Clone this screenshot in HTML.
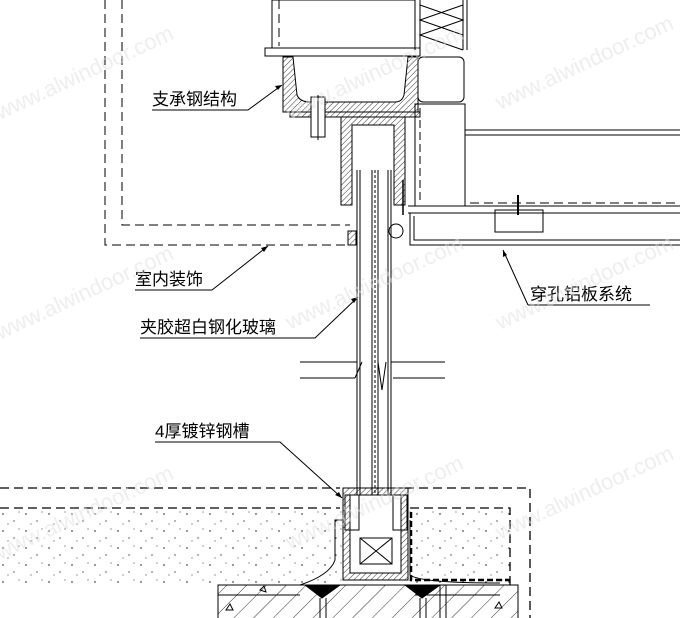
<!DOCTYPE html>
<html><head><meta charset="utf-8"><style>
html,body{margin:0;padding:0;background:#fff}
svg{display:block}
text{font-family:"Liberation Sans","Noto Sans CJK SC",sans-serif}
</style></head><body>
<svg width="680" height="618" viewBox="0 0 680 618" xmlns="http://www.w3.org/2000/svg">
<defs>
<pattern id="h" width="4" height="4" patternUnits="userSpaceOnUse" patternTransform="rotate(45)"><line x1="0" y1="0" x2="0" y2="4" stroke="#000" stroke-width="0.8"/></pattern>
<pattern id="hs" width="14" height="14" patternUnits="userSpaceOnUse" patternTransform="rotate(45)"><line x1="0" y1="0" x2="0" y2="14" stroke="#000" stroke-width="0.8"/></pattern>
<pattern id="dots" width="23" height="17" patternUnits="userSpaceOnUse"><circle cx="3" cy="4" r="0.7" fill="#000"/><circle cx="14" cy="11" r="0.6" fill="#000"/><circle cx="19" cy="2" r="0.5" fill="#000"/><circle cx="8" cy="14" r="0.5" fill="#000"/></pattern>
</defs>
<rect width="680" height="618" fill="#fff"/>
<g fill="none" stroke="#000" stroke-width="1">
<path d="M105 0V245H350" stroke-dasharray="9,5"/>
<path d="M122 0V225H350" stroke-dasharray="9,5"/>
<rect x="272" y="0" width="143" height="48"/>
<line x1="279" y1="0" x2="279" y2="46" stroke-dasharray="9,5"/>
<rect x="265" y="48" width="155" height="8"/>
<line x1="415" y1="0" x2="415" y2="50"/><line x1="420" y1="0" x2="420" y2="50"/>
<line x1="463" y1="0" x2="463" y2="50"/><line x1="467" y1="0" x2="467" y2="50"/>
<path d="M420 5L463 20L420 35L463 50M463 5L420 20L463 35"/>
<!-- U bracket -->
<path d="M283 57H293L297 95Q300 102 310 102H395Q402 102 404 95L408 57H418V112H283Z" fill="url(#h)"/>
<rect x="290" y="112" width="130" height="5" fill="url(#h)"/>
<path d="M341 117H405V205H394V125H352V205H341Z" fill="url(#h)"/>
<rect x="311" y="97" width="14" height="40" fill="#fff"/>
<line x1="318" y1="95" x2="318" y2="140"/>
<rect x="418" y="57" width="46" height="45" rx="5"/>
<rect x="415" y="104" width="50" height="102"/>
<line x1="420" y1="108" x2="420" y2="204" stroke-dasharray="8,4"/>
<path d="M465 130H680M465 135H680" />
<line x1="470" y1="203" x2="680" y2="203" stroke-dasharray="9,5"/>
<line x1="465" y1="135" x2="465" y2="206"/>
<path d="M408 206H680M408 213H680M410 213V245H680M414 216V240H680"/>
<rect x="495" y="210" width="48" height="22"/>
<line x1="518" y1="195" x2="518" y2="215" stroke-width="2"/>
<line x1="403" y1="180" x2="403" y2="215" stroke-width="1.5"/>
<circle cx="396" cy="231" r="7"/>
<rect x="348" y="231" width="8" height="14" fill="url(#h)"/>
<path d="M357 170V500M360 170V500M372 170V500M378 170V500M388 170V500M391 170V500"/>
<line x1="375" y1="170" x2="375" y2="500" stroke-dasharray="3,2"/>
<path d="M300 362H357M391 362H445M300 378H355M393 378H445"/>
<path d="M355 378L362 362M378 362L382 390L386 362" />
<path d="M0 488H340M405 488H530V618" stroke-dasharray="9,5" stroke-width="1.3"/>
<path d="M0 508H340M410 508H510V585" stroke-dasharray="9,5" stroke-width="1.3"/>
<path d="M343 488H408V580H343Z" fill="url(#h)"/>
<rect x="350" y="495" width="51" height="78" fill="#fff"/>
<rect x="360" y="538" width="32" height="26"/>
<path d="M360 538L392 564M392 538L360 564"/>
<rect x="345" y="495" width="14" height="35"/><rect x="393" y="495" width="14" height="35"/>
<rect x="0" y="509" width="342" height="76" fill="url(#dots)" stroke="none"/>
<rect x="409" y="509" width="101" height="76" fill="url(#dots)" stroke="none"/>
<path d="M300 585Q330 575 335 560V520H342M410 520V575Q420 583 500 583"/>
<path d="M411 512V580H510" stroke-width="2.5" stroke-dasharray="6,3"/>
<rect x="218" y="585" width="300" height="40" fill="url(#hs)"/>
<path d="M218 595H300M415 595H500"/>
<path d="M305 585H340L322 598ZM405 585H440L422 598Z" fill="#000"/>
<path d="M320 598V618M326 598V618M420 598V618M426 598V618M440 585V618M446 585V618"/>
<path d="M226 610l4 -6l3 6zM495 608l4 -6l3 6zM260 590l4 -4l2 6z"/>
<path d="M152 110H248L282 85"/>
<path d="M135 290H212L268 246"/>
<path d="M140 338H315L358 297"/>
<path d="M155 442H280L342 498"/>
<path d="M528 305H650M528 305L503 250"/>
</g>
<g fill="#000">
<path d="M282 85l-7 1l3 4z"/><path d="M268 246l-7 2l3 4z"/><path d="M358 297l-7 2l3 4z"/><path d="M342 498l-3 -6l-4 3z"/><path d="M503 250l0 7l4 -2z"/>
</g>
<g font-size="17" fill="#000">
<text x="152" y="105">支承钢结构</text>
<text x="135" y="285">室内装饰</text>
<text x="140" y="333">夹胶超白钢化玻璃</text>
<text x="155" y="437">4厚镀锌钢槽</text>
<text x="530" y="300">穿孔铝板系统</text>
</g>
<g font-size="22" fill="#ddd" fill-opacity="0.5" font-family="Liberation Sans,sans-serif">
<text transform="translate(0,120) rotate(-25)">www.alwindoor.com</text>
<text transform="translate(290,120) rotate(-25)">www.alwindoor.com</text>
<text transform="translate(500,110) rotate(-25)">www.alwindoor.com</text>
<text transform="translate(0,340) rotate(-25)">www.alwindoor.com</text>
<text transform="translate(290,330) rotate(-25)">www.alwindoor.com</text>
<text transform="translate(500,330) rotate(-25)">www.alwindoor.com</text>
<text transform="translate(0,560) rotate(-25)">www.alwindoor.com</text>
<text transform="translate(290,550) rotate(-25)">www.alwindoor.com</text>
<text transform="translate(500,540) rotate(-25)">www.alwindoor.com</text>
</g>
</svg>
</body></html>
